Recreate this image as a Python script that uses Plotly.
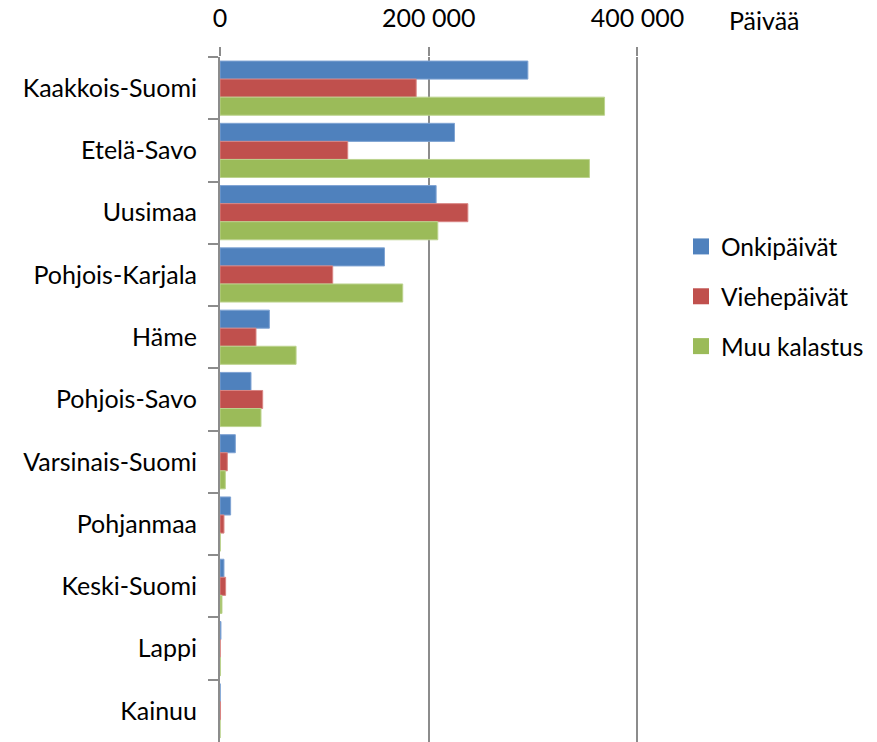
import plotly.graph_objects as go

regions = ["Kaakkois-Suomi", "Etelä-Savo", "Uusimaa", "Pohjois-Karjala", "Häme",
           "Pohjois-Savo", "Varsinais-Suomi", "Pohjanmaa", "Keski-Suomi", "Lappi", "Kainuu"]
onki = [295000, 224700, 207100, 157600, 47300, 29700, 14700, 10200, 3800, 900, 200]
viehe = [188000, 122400, 237500, 108000, 34500, 40900, 7000, 3800, 5400, 200, 500]
muu = [368500, 354000, 208700, 175100, 72900, 39300, 5100, 300, 1900, 500, 100]

series = [("Onkipäivät", onki, "#4F81BD", "#7FA3D3"),
          ("Viehepäivät", viehe, "#C0504D", "#D98583"),
          ("Muu kalastus", muu, "#9BBB59", "#BCD38E")]

font = "Lato"
FS = 25
fig = go.Figure()
for name, vals, col, edge in series:
    fig.add_trace(go.Bar(y=regions, x=vals, name=name, orientation="h", showlegend=False,
                         marker=dict(color=col, line=dict(color=edge, width=1))))
for name, vals, col, edge in series:
    fig.add_trace(go.Scatter(x=[None], y=[None], mode="markers", name=name,
                             legendgroup=name,
                             marker=dict(symbol="square", size=16, color=col)))

L, R, T, B = 220, 238, 57, 0
W, H = 877, 742
pw, ph = W - L - R, H - T - B

fig.update_layout(
    width=W, height=H,
    margin=dict(l=L, r=R, t=T, b=B, autoexpand=False),
    paper_bgcolor="white", plot_bgcolor="white",
    barmode="group", bargap=0.13, bargroupgap=0,
    font=dict(family=font, size=FS, color="black"),
    legend=dict(x=(681 - L) / pw, y=1 - (224 - T) / ph, xanchor="left", yanchor="top",
                font=dict(size=24.5), tracegroupgap=15, itemwidth=30,
                bgcolor="rgba(0,0,0,0)"),
    xaxis=dict(side="top", range=[0, 401500], tickvals=[0, 200000, 400000],
               ticktext=["0", "200 000", "400 000"],
               showgrid=True, gridcolor="#8C8C8C", gridwidth=2,
               ticks="outside", ticklen=9, tickcolor="#8C8C8C", tickwidth=2,
               showline=False, zeroline=False, tickfont=dict(size=FS),
               automargin=False, ticklabelstandoff=10),
    yaxis=dict(autorange="reversed", tickson="boundaries", ticks="outside",
               ticklen=10, tickcolor="#8C8C8C", tickwidth=2,
               showline=True, linecolor="#8C8C8C", linewidth=2,
               tickfont=dict(size=FS), ticklabelstandoff=16, automargin=False),
    annotations=[dict(text="Päivää", x=(764 - L) / pw, y=1 + (T - 20) / ph,
                      xref="paper", yref="paper", xanchor="center", yanchor="middle",
                      showarrow=False, font=dict(size=FS))],
)
fig.write_html("out.html", config={"displayModeBar": False},
               post_script="document.body.style.margin='0';document.body.style.overflow='hidden';")
